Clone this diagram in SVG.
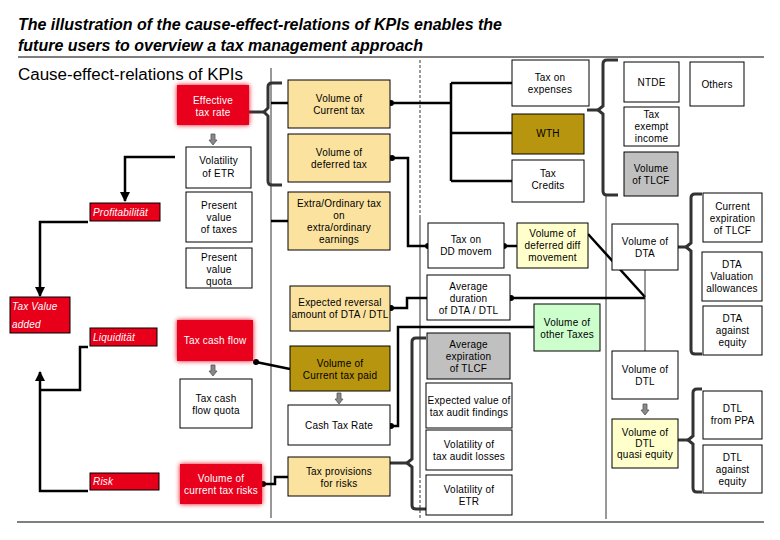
<svg xmlns="http://www.w3.org/2000/svg" width="780" height="540" viewBox="0 0 780 540">
<defs>
<style>
.t{font-family:"Liberation Sans",Arial,sans-serif;font-size:10px;fill:#000;text-anchor:middle;letter-spacing:0.2px}
.w{fill:#fff}
.it{font-style:italic;text-anchor:start}
.bx{stroke:#000;stroke-width:1}
.white{fill:#fff}
.yel{fill:#FBE39F}
.gold{fill:#B8950E}
.gray{fill:#C0C0C0}
.lyel{fill:#FFFFCC}
.lgrn{fill:#CCFFCC}
.red{fill:#E8001A}
.ln{fill:none;stroke:#000;stroke-width:2.5}
.thin{fill:none;stroke:#333;stroke-width:1}
.brace{fill:none;stroke:#333;stroke-width:3}
.garrow{fill:#888;stroke:#555;stroke-width:0.8}
</style>
<filter id="glow" x="-20%" y="-30%" width="140%" height="160%">
<feGaussianBlur in="SourceGraphic" stdDeviation="2.5" result="b"/>
<feMerge><feMergeNode in="b"/><feMergeNode in="SourceGraphic"/></feMerge>
</filter>
<marker id="ah" viewBox="0 0 10 10" refX="9" refY="5" markerWidth="4" markerHeight="4" orient="auto">
<path d="M0,0 L10,5 L0,10 z" fill="#000"/>
</marker>
<marker id="dot" viewBox="0 0 10 10" refX="5" refY="5" markerWidth="3" markerHeight="3">
<circle cx="5" cy="5" r="4" fill="#000"/>
</marker>
</defs>
<rect width="780" height="540" fill="#fff"/>
<!-- title -->
<text x="18" y="30" font-family="Liberation Sans,Arial,sans-serif" font-size="16" font-style="italic" font-weight="bold" textLength="484" lengthAdjust="spacingAndGlyphs">The illustration of the cause-effect-relations of KPIs enables the</text>
<text x="18" y="51" font-family="Liberation Sans,Arial,sans-serif" font-size="16" font-style="italic" font-weight="bold" textLength="405" lengthAdjust="spacingAndGlyphs">future users to overview a tax management approach</text>
<line x1="18" y1="57" x2="764" y2="57" stroke="#000" stroke-width="1"/>
<text x="18" y="80" font-family="Liberation Sans,Arial,sans-serif" font-size="16" textLength="225" lengthAdjust="spacingAndGlyphs">Cause-effect-relations of KPIs</text>
<line x1="17" y1="522" x2="764" y2="522" stroke="#000" stroke-width="1"/>

<g id="connectors">
<line x1="271" y1="68" x2="271" y2="518" class="thin"/>
<line x1="420" y1="60" x2="420" y2="218" class="thin" stroke-dasharray="3,2"/>
<line x1="420" y1="218" x2="420" y2="475" class="thin"/>
<line x1="420" y1="475" x2="420" y2="520" class="thin" stroke-dasharray="3,2"/>
<line x1="606" y1="195" x2="606" y2="519" class="thin"/>
<!-- braces -->
<path class="brace" d="M282 83 H272 Q268 83 268 87 V108 L264 112 L268 116 V181 Q268 185 272 185 H282"/>
<line x1="249" y1="112" x2="264" y2="112" stroke="#333" stroke-width="3"/>
<path class="brace" d="M618 60 H607 Q603 60 603 64 V106 L598 110 L603 114 V191 Q603 195 607 195 H618"/>
<line x1="587" y1="110" x2="598" y2="110" stroke="#333" stroke-width="3"/>
<path class="brace" d="M702 194 H695 Q691 194 691 198 V243 L686 247 L691 251 V350 Q691 354 695 354 H702"/>
<line x1="678" y1="247" x2="686" y2="247" stroke="#333" stroke-width="3"/>
<path class="brace" d="M702 389 H697 Q693 389 693 393 V436 L688 440 L693 444 V488 Q693 492 697 492 H702"/>
<line x1="678" y1="440" x2="688" y2="440" stroke="#333" stroke-width="3"/>
<path class="brace" d="M426 338 H416 Q412 338 412 342 V459 L407 463 L412 467 V505 Q412 509 416 509 H426"/>
<line x1="390" y1="463" x2="407" y2="463" stroke="#333" stroke-width="3"/>
<!-- left tree -->
<path class="ln" d="M175 157 H125 V201" marker-end="url(#ah)"/>
<path class="ln" d="M88 222 H40 V296" marker-end="url(#ah)"/>
<path class="ln" d="M88 347 H80 V390 H40"/>
<path class="ln" d="M88 491 H40 V372" marker-end="url(#ah)"/>
<!-- middle -->
<line x1="271" y1="103" x2="288" y2="103" class="ln"/>
<line x1="271" y1="221" x2="288" y2="221" class="ln"/>
<path class="ln" d="M290 369 L256 362" marker-end="url(#dot)"/>
<path class="ln" d="M263 484 H275 V477 H288" marker-start="url(#dot)"/>
<path class="ln" d="M391 103 H451" marker-start="url(#dot)"/>
<path class="ln" d="M451 83 V181 M451 83 H512 M451 133 H512 M451 181 H512"/>
<path class="ln" d="M392 158 H408 V246 H428" marker-start="url(#dot)" marker-end="url(#dot)"/>
<path class="ln" d="M504 246 H517" marker-start="url(#dot)"/>
<path class="ln" d="M391 308 H407 V298 H427" marker-start="url(#dot)"/>
<path class="ln" d="M511 298 H645" marker-start="url(#dot)"/>
<path class="ln" d="M588 234 L645 297"/>
<path class="thin" d="M645 270 V351" stroke="#000" stroke-width="1.2"/>
<path class="ln" d="M391 426 H398 V327 H534" marker-start="url(#dot)"/>
</g>

<!-- small gray arrows -->
<g id="garrows">
<path class="garrow" d="M211 134 H215 V140 H217 L213 145 L209 140 H211 Z"/>
<path class="garrow" d="M211 365 H215 V371 H217 L213 376 L209 371 H211 Z"/>
<path class="garrow" d="M337 393 H341 V399 H343 L339 404 L335 399 H337 Z"/>
<path class="garrow" d="M643 404 H647 V410 H649 L645 415 L641 410 H643 Z"/>
</g>

<g id="n-ett"><rect x="177" y="85" width="72" height="40" class="red" filter="url(#glow)"/><text class="t w" x="213" y="104">Effective</text><text class="t w" x="213" y="116">tax rate</text></g>
<g id="n-voletr"><rect x="186" y="147" width="65" height="41" class="bx white"/><text class="t" x="218.5" y="164">Volatility</text><text class="t" x="218.5" y="177">of ETR</text></g>
<g id="n-pvt"><rect x="186" y="192" width="66" height="50" class="bx white"/><text class="t" x="219" y="209">Present</text><text class="t" x="219" y="221">value</text><text class="t" x="219" y="233">of taxes</text></g>
<g id="n-pvq"><rect x="186" y="248" width="66" height="40" class="bx white"/><text class="t" x="219" y="261">Present</text><text class="t" x="219" y="273">value</text><text class="t" x="219" y="285">quota</text></g>
<g id="n-prof"><rect x="90" y="203" width="70" height="18" class="bx red"/><text class="t w it" x="93" y="216">Profitabilität</text></g>
<g id="n-tva"><rect x="10" y="297" width="60" height="36" class="bx red"/><text class="t w it" x="12" y="310">Tax Value</text><text class="t w it" x="12" y="328">added</text></g>
<g id="n-liq"><rect x="90" y="328" width="67" height="18" class="bx red"/><text class="t w it" x="93" y="341">Liquidität</text></g>
<g id="n-tcf"><rect x="177" y="320" width="76" height="41" class="red" filter="url(#glow)"/><text class="t w" x="215" y="344">Tax cash flow</text></g>
<g id="n-tcfq"><rect x="180" y="379" width="72" height="49" class="bx white"/><text class="t" x="216" y="402">Tax cash</text><text class="t" x="216" y="414">flow quota</text></g>
<g id="n-risk"><rect x="90" y="473" width="69" height="17" class="bx red"/><text class="t w it" x="93" y="485">Risk</text></g>
<g id="n-vctr"><rect x="180" y="464" width="82" height="40" class="red" filter="url(#glow)"/><text class="t w" x="221" y="482">Volume of</text><text class="t w" x="221" y="494">current tax risks</text></g>

<g id="n-vct"><rect x="288" y="80" width="102" height="48" class="bx yel"/><text class="t" x="339" y="102">Volume of</text><text class="t" x="339" y="114">Current tax</text></g>
<g id="n-vdt"><rect x="288" y="134" width="102" height="48" class="bx yel"/><text class="t" x="339" y="156">Volume of</text><text class="t" x="339" y="168">deferred tax</text></g>
<g id="n-eot"><rect x="288" y="192" width="102" height="58" class="bx yel"/><text class="t" x="339" y="207">Extra/Ordinary tax</text><text class="t" x="339" y="219">on</text><text class="t" x="339" y="231">extra/ordinary</text><text class="t" x="339" y="243">earnings</text></g>
<g id="n-era"><rect x="290" y="286" width="100" height="45" class="bx yel"/><text class="t" x="340" y="306">Expected reversal</text><text class="t" x="340" y="318">amount of DTA / DTL</text></g>
<g id="n-vctp"><rect x="290" y="346" width="100" height="45" class="bx gold"/><text class="t" x="340" y="367">Volume of</text><text class="t" x="340" y="379">Current tax paid</text></g>
<g id="n-ctr"><rect x="288" y="405" width="102" height="40" class="bx white"/><text class="t" x="339" y="429">Cash Tax Rate</text></g>
<g id="n-tpr"><rect x="288" y="457" width="102" height="39" class="bx yel"/><text class="t" x="339" y="475">Tax provisions</text><text class="t" x="339" y="487">for risks</text></g>

<g id="n-toe"><rect x="512" y="60" width="77" height="46" class="bx white"/><text class="t" x="550" y="81">Tax on</text><text class="t" x="550" y="93">expenses</text></g>
<g id="n-wth"><rect x="512" y="114" width="72" height="40" class="bx gold"/><text class="t" x="548" y="137">WTH</text></g>
<g id="n-tc"><rect x="512" y="160" width="72" height="42" class="bx white"/><text class="t" x="548" y="177">Tax</text><text class="t" x="548" y="189">Credits</text></g>
<g id="n-tdd"><rect x="428" y="223" width="76" height="45" class="bx white"/><text class="t" x="466" y="243">Tax on</text><text class="t" x="466" y="255">DD movem</text></g>
<g id="n-vddm"><rect x="517" y="223" width="71" height="45" class="bx lyel"/><text class="t" x="552.5" y="237">Volume of</text><text class="t" x="552.5" y="249">deferred diff</text><text class="t" x="552.5" y="261">movement</text></g>
<g id="n-add"><rect x="427" y="275" width="83" height="45" class="bx white"/><text class="t" x="468.5" y="290">Average</text><text class="t" x="468.5" y="302">duration</text><text class="t" x="468.5" y="314">of DTA / DTL</text></g>
<g id="n-vot"><rect x="534" y="304" width="66" height="47" class="bx lgrn"/><text class="t" x="567" y="326">Volume of</text><text class="t" x="567" y="338">other Taxes</text></g>
<g id="n-aet"><rect x="427" y="333" width="83" height="46" class="bx gray"/><text class="t" x="468.5" y="348">Average</text><text class="t" x="468.5" y="360">expiration</text><text class="t" x="468.5" y="372">of TLCF</text></g>
<g id="n-evt"><rect x="426" y="383" width="86" height="45" class="bx white"/><text class="t" x="469" y="404">Expected value of</text><text class="t" x="469" y="416">tax audit findings</text></g>
<g id="n-vtal"><rect x="426" y="430" width="86" height="40" class="bx white"/><text class="t" x="469" y="448">Volatility of</text><text class="t" x="469" y="460">tax audit losses</text></g>
<g id="n-vetr2"><rect x="426" y="475" width="86" height="40" class="bx white"/><text class="t" x="469" y="493">Volatility of</text><text class="t" x="469" y="505">ETR</text></g>

<g id="n-ntde"><rect x="624" y="62" width="55" height="40" class="bx white"/><text class="t" x="651.5" y="86">NTDE</text></g>
<g id="n-oth"><rect x="690" y="62" width="54" height="44" class="bx white"/><text class="t" x="717" y="88">Others</text></g>
<g id="n-tei"><rect x="624" y="107" width="55" height="39" class="bx white"/><text class="t" x="651.5" y="118">Tax</text><text class="t" x="651.5" y="130">exempt</text><text class="t" x="651.5" y="142">income</text></g>
<g id="n-vtlcf"><rect x="624" y="152" width="54" height="44" class="bx gray"/><text class="t" x="651" y="172">Volume</text><text class="t" x="651" y="184">of TLCF</text></g>
<g id="n-vdta"><rect x="612" y="224" width="66" height="46" class="bx white"/><text class="t" x="645" y="245">Volume of</text><text class="t" x="645" y="257">DTA</text></g>
<g id="n-vdtl"><rect x="612" y="351" width="66" height="48" class="bx white"/><text class="t" x="645" y="373">Volume of</text><text class="t" x="645" y="385">DTL</text></g>
<g id="n-vdtlq"><rect x="612" y="419" width="66" height="49" class="bx lyel"/><text class="t" x="645" y="436" font-size="8.5px">Volume of</text><text class="t" x="645" y="447" font-size="8.5px">DTL</text><text class="t" x="645" y="458" font-size="8.5px">quasi equity</text></g>
<g id="n-cet"><rect x="703" y="193" width="59" height="49" class="bx white"/><text class="t" x="732.5" y="210">Current</text><text class="t" x="732.5" y="222">expiration</text><text class="t" x="732.5" y="234">of TLCF</text></g>
<g id="n-dva"><rect x="702" y="252" width="60" height="49" class="bx white"/><text class="t" x="732" y="268">DTA</text><text class="t" x="732" y="280">Valuation</text><text class="t" x="732" y="292">allowances</text></g>
<g id="n-dae"><rect x="703" y="306" width="59" height="49" class="bx white"/><text class="t" x="732.5" y="322">DTA</text><text class="t" x="732.5" y="334">against</text><text class="t" x="732.5" y="346">equity</text></g>
<g id="n-dpp"><rect x="703" y="391" width="59" height="48" class="bx white"/><text class="t" x="732.5" y="412">DTL</text><text class="t" x="732.5" y="424">from PPA</text></g>
<g id="n-dle"><rect x="703" y="445" width="59" height="48" class="bx white"/><text class="t" x="732.5" y="461">DTL</text><text class="t" x="732.5" y="473">against</text><text class="t" x="732.5" y="485">equity</text></g>
</svg>
